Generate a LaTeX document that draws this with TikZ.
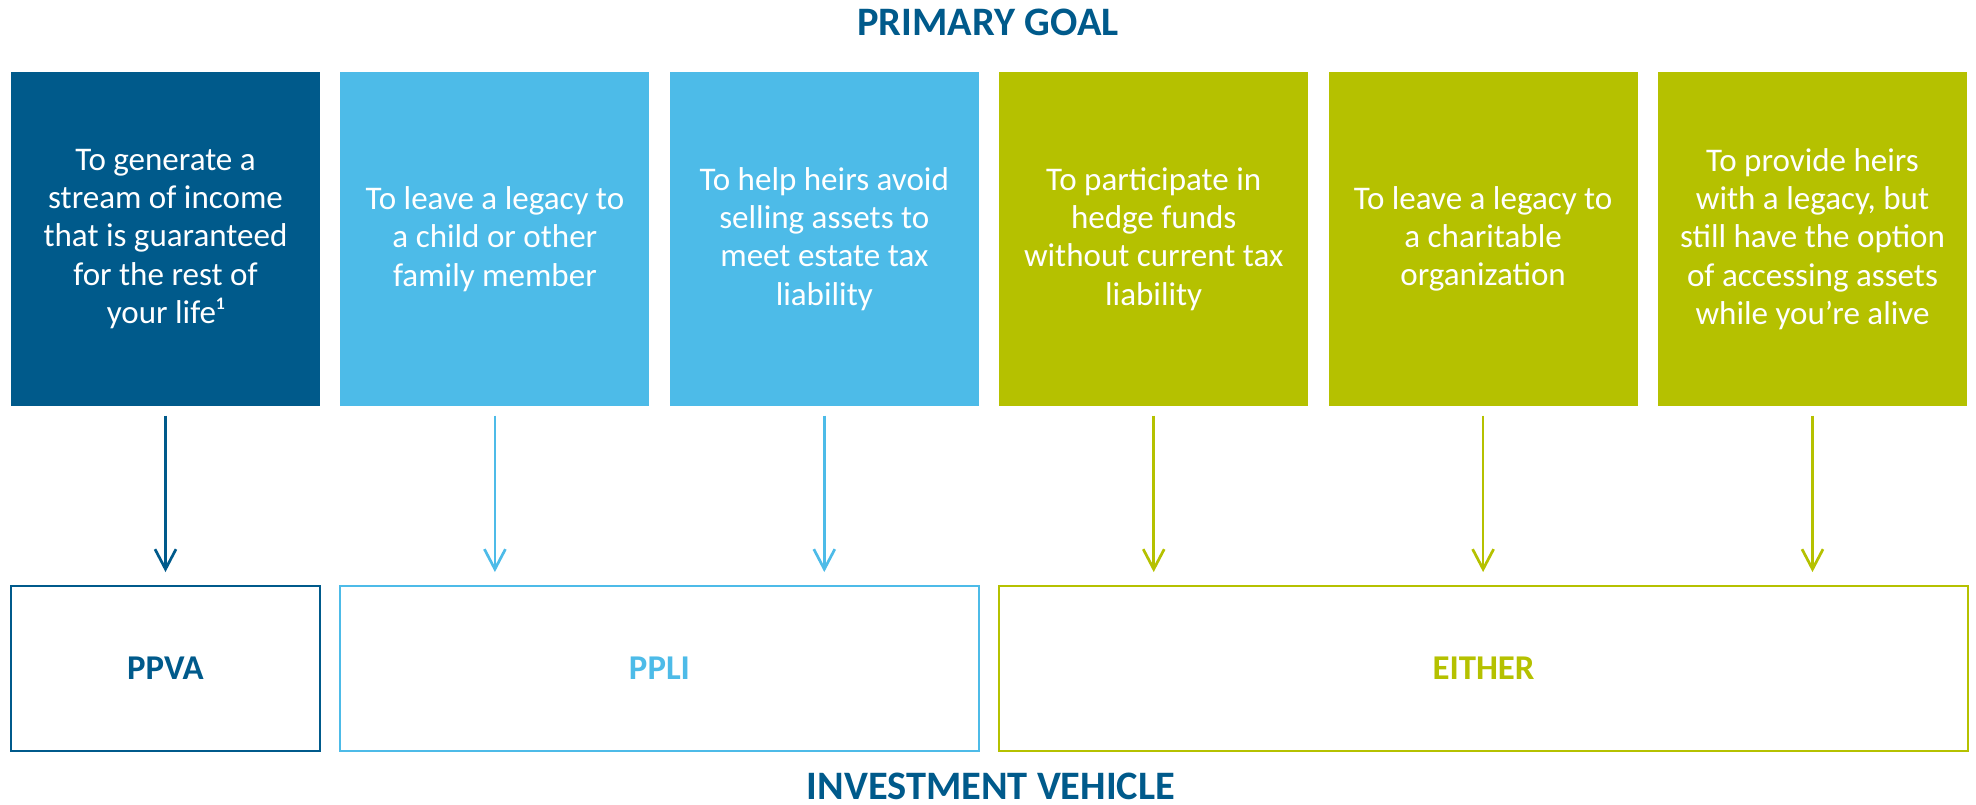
\documentclass[tikz,border=0pt]{standalone}
\usepackage{fontspec}
\setmainfont{Carlito}
\usetikzlibrary{arrows.meta}
\definecolor{navy}{RGB}{0,90,139}
\definecolor{sky}{RGB}{77,187,232}
\definecolor{olive}{RGB}{181,193,0}

\begin{document}
\begin{tikzpicture}[x=0.1mm,y=-0.1mm,
	goal/.style={fill=#1, text=white, minimum width=30.9mm, minimum height=33.4mm, inner sep=0pt, align=center, font=\fontsize{9.4}{10.9}\selectfont},
	vehicle/.style={draw=#1, line width=0.55pt, text=#1, minimum height=16.5mm, inner sep=0pt, font=\bfseries\fontsize{9.9}{11}\selectfont},
	link/.style={draw=#1, line width=0.77pt, -{Straight Barb[length=2mm,width=2.1mm,line width=0.77pt]}, shorten <=0.9mm, shorten >=1.3mm},
	heading/.style={text=navy, font=\bfseries\fontsize{11.5}{13}\selectfont}]
	\useasboundingbox (0,0) rectangle (1976,804);
	% headings
	\node[heading] (top) at (988,22) {PRIMARY GOAL};
	\node[heading] (bottom) at (991,786) {INVESTMENT VEHICLE};
	% goals
	\node[goal=navy] (g1) at (165.5,239) {To generate a\\stream of income\\that is guaranteed\\for the rest of\\your life¹};
	\node[goal=sky] (g2) at (494.9,239) {To leave a legacy to\\a child or other\\family member};
	\node[goal=sky] (g3) at (824.3,239) {To help heirs avoid\\selling assets to\\meet estate tax\\liability};
	\node[goal=olive] (g4) at (1153.7,239) {To participate in\\hedge funds\\without current tax\\liability};
	\node[goal=olive] (g5) at (1483.1,239) {To leave a legacy to\\a charitable\\organization};
	\node[goal=olive] (g6) at (1812.5,239) {To provide heirs\\with a legacy, but\\still have the option\\of accessing assets\\while you’re alive};
	% vehicles
	\node[vehicle=navy, minimum width=30.9mm] (ppva) at (165.5,668.5) {PPVA};
	\node[vehicle=sky, minimum width=63.9mm] (ppli) at (659.5,668.5) {PPLI};
	\node[vehicle=olive, minimum width=96.9mm] (either) at (1483.5,668.5) {EITHER};
	% arrows
	\draw[link=navy] (g1) -- (g1 |- ppva.north);
	\draw[link=sky] (g2) -- (g2 |- ppli.north);
	\draw[link=sky] (g3) -- (g3 |- ppli.north);
	\foreach \g in {g4,g5,g6}
		\draw[link=olive] (\g) -- (\g |- either.north);
\end{tikzpicture}
\end{document}
